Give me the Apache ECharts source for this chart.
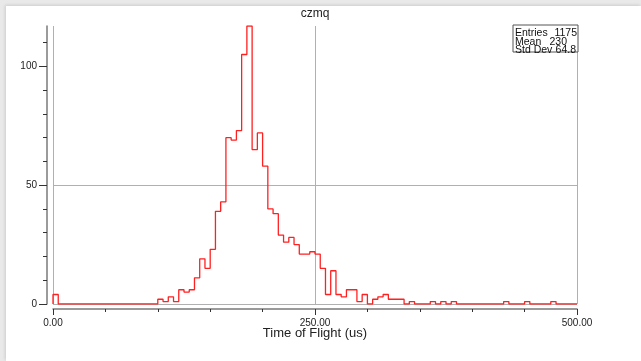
<!DOCTYPE html>
<html>
<head>
<meta charset="utf-8">
<script src="https://cdn.jsdelivr.net/npm/echarts@6/dist/echarts.min.js"></script>
<style>
  html, body { margin: 0; padding: 0; background: #e9e9e9; width: 641px; height: 361px; overflow: hidden; }
  #panel { position: absolute; left: 6px; top: 6px; right: 0; bottom: 0; background: #ffffff; box-shadow: -1px -1px 3px rgba(0,0,0,0.12); }
  #chart { position: absolute; left: 0; top: 0; width: 641px; height: 361px; }
</style>
</head>
<body>
<div id="panel"></div>
<div id="chart"></div>
<script>
// ---- data (100 bins, 0..500 us) ----
const titleText = 'czmq';
const xAxisName = 'Time of Flight (us)';
const xMin = 0;
const xMax = 500;
const yMax = 117;
const counts = [
  4, 0, 0, 0, 0, 0, 0, 0, 0, 0,
  0, 0, 0, 0, 0, 0, 0, 0, 0, 0,
  2, 1, 3, 1, 6, 5, 6, 11, 19, 15,
  23, 39, 43, 70, 69, 73, 105, 117, 65, 72,
  58, 40, 38, 29, 26, 28, 25, 21, 21, 22,
  21, 15, 4, 14, 4, 3, 6, 6, 1, 4,
  0, 2, 3, 4, 2, 2, 2, 0, 1, 0,
  0, 0, 1, 0, 1, 0, 1, 0, 0, 0,
  0, 0, 0, 0, 0, 0, 1, 0, 0, 0,
  1, 0, 0, 0, 0, 1, 0, 0, 0, 0
];
const xMajorTicks = [0, 250, 500];
const yMajorTicks = [0, 50, 100];
const yMinorTicks = [10, 20, 30, 40, 60, 70, 80, 90, 110];
const statsLabels = ['Entries', 'Mean', 'Std Dev'];
const statsValues = ['1175', '230', '64.8'];

// ---- build step points ----
const binWidth = (xMax - xMin) / counts.length;
const points = [[xMin, 0]];
counts.forEach((c, i) => points.push([xMin + i * binWidth, c]));
points.push([xMax, counts[counts.length - 1]]);

const FONT = 'Liberation Sans, Arial, sans-serif';
const chart = echarts.init(document.getElementById('chart'), null, { renderer: 'canvas' });

const valueRight = [577, 567, 576];
const statsY = [33, 42, 50.5];

const option = {
  animation: false,
  backgroundColor: 'transparent',
  grid: { left: 53, right: 64, top: 26, bottom: 57, containLabel: false },
  xAxis: {
    type: 'value',
    min: xMin,
    max: xMax,
    interval: 250,
    offset: 5,
    name: xAxisName,
    nameLocation: 'middle',
    nameGap: 24,
    nameMoveOverlap: false,
    nameTextStyle: { fontFamily: FONT, fontSize: 13, color: '#222', verticalAlign: 'middle' },
    axisLine: { show: true, onZero: false, lineStyle: { color: '#7a7a7a', width: 1.5 } },
    axisTick: { show: true, length: 6, lineStyle: { color: '#333', width: 1 } },
    minorTick: { show: true, splitNumber: 5, length: 3, lineStyle: { color: '#333', width: 1 } },
    axisLabel: {
      fontFamily: FONT, fontSize: 10, color: '#222', margin: 9,
      formatter: v => xMajorTicks.indexOf(v) >= 0 ? v.toFixed(2) : ''
    },
    splitLine: { show: true, lineStyle: { color: '#b0b0b0', width: 1 } }
  },
  yAxis: [
    {
      type: 'value',
      min: 0,
      max: yMax,
      interval: 50,
      position: 'left',
      offset: 6,
      axisLine: { show: true, onZero: false, lineStyle: { color: '#7a7a7a', width: 1.5 } },
      axisTick: { show: true, length: 8, customValues: yMajorTicks, lineStyle: { color: '#333', width: 1 } },
      axisLabel: {
        fontFamily: FONT, fontSize: 10, color: '#222', margin: 10,
        customValues: yMajorTicks,
        formatter: v => yMajorTicks.indexOf(v) >= 0 ? String(v) : ''
      },
      splitLine: { show: true, showMaxLine: false, lineStyle: { color: '#b0b0b0', width: 1 } }
    },
    {
      type: 'value',
      min: 0,
      max: yMax,
      position: 'left',
      offset: 6,
      axisLine: { show: false, onZero: false },
      axisTick: { show: true, length: 4, customValues: yMinorTicks, lineStyle: { color: '#333', width: 1 } },
      axisLabel: { show: false },
      splitLine: { show: false }
    }
  ],
  series: [{
    type: 'line',
    step: 'end',
    data: points,
    yAxisIndex: 0,
    symbol: 'none',
    lineStyle: { color: '#ff2020', width: 1.3 },
    itemStyle: { color: '#ff2020' },
    z: 5
  }],
  graphic: [
    {
      type: 'text', x: 315, y: 14,
      style: { text: titleText, font: '12px ' + FONT, fill: '#222', textAlign: 'center', textVerticalAlign: 'middle' }
    },
    {
      type: 'rect', shape: { x: 513, y: 25, width: 65, height: 27 },
      style: { fill: '#ffffff', stroke: '#555', lineWidth: 1 }, z: 10
    }
  ].concat(statsLabels.map((t, i) => ({
    type: 'text', x: 515, y: statsY[i], z: 11,
    style: { text: t, font: '10.5px ' + FONT, fill: '#111', textAlign: 'left', textVerticalAlign: 'middle' }
  }))).concat(statsValues.map((t, i) => ({
    type: 'text', x: valueRight[i], y: statsY[i], z: 11,
    style: { text: t, font: '10.5px ' + FONT, fill: '#111', textAlign: 'right', textVerticalAlign: 'middle' }
  })))
};
chart.setOption(option);
</script>
</body>
</html>
